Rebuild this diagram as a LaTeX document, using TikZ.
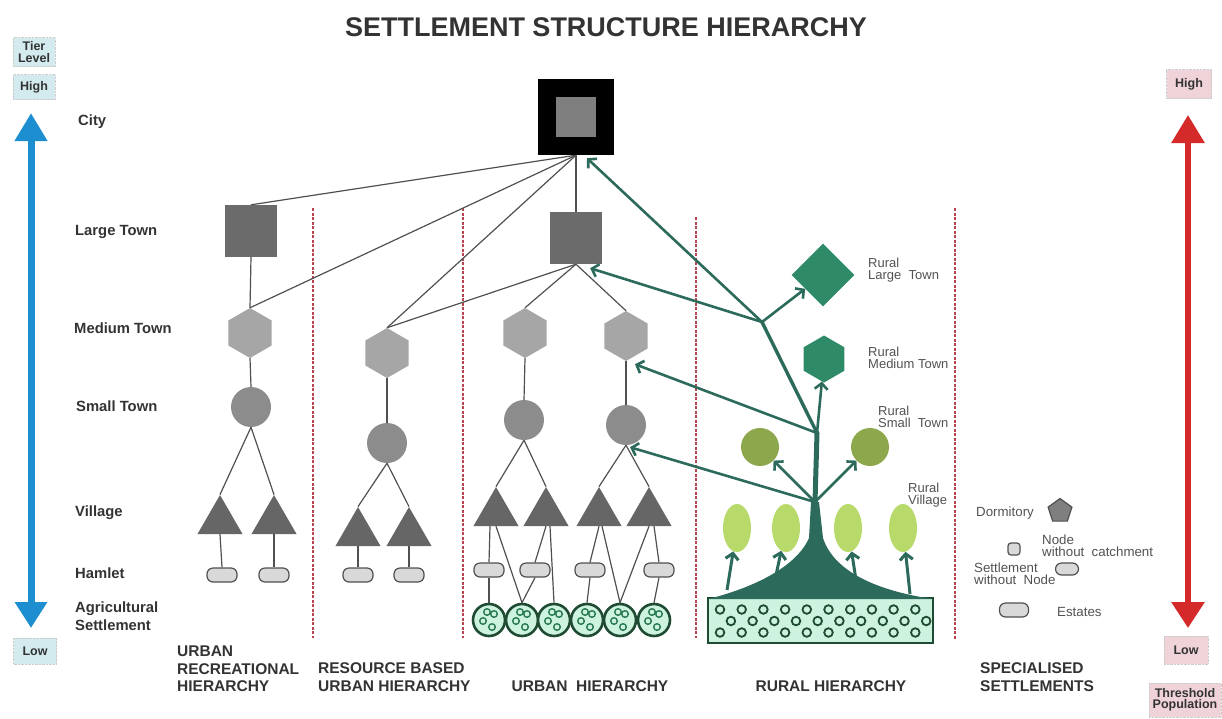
\documentclass[tikz,border=0pt]{standalone}
\usepackage{fontspec}
\setmainfont{Liberation Sans}
\usetikzlibrary{arrows.meta,shapes.geometric,calc}
\definecolor{txt}{HTML}{333333}
\definecolor{linegray}{HTML}{505050}
\definecolor{ltgray}{HTML}{6B6B6B}
\definecolor{hexgray}{HTML}{A6A6A6}
\definecolor{stgray}{HTML}{8C8C8C}
\definecolor{trigray}{HTML}{666666}
\definecolor{hamfill}{HTML}{D9D9D9}
\definecolor{cityin}{HTML}{7F7F7F}
\definecolor{trunk}{HTML}{2C6B5C}
\definecolor{rgreen}{HTML}{2F8A68}
\definecolor{olive}{HTML}{8DA84C}
\definecolor{lime}{HTML}{B8DA6B}
\definecolor{mint}{HTML}{CDF3E0}
\definecolor{agdark}{HTML}{1E4B32}
\definecolor{ringc}{HTML}{2A7A52}
\definecolor{dashred}{HTML}{B84452}
\definecolor{sblue}{HTML}{1D8FD0}
\definecolor{sred}{HTML}{D42A2A}
\definecolor{cyanbox}{HTML}{D3EBEE}
\definecolor{pinkbox}{HTML}{EFD3D8}
\pgfdeclarelayer{bg}
\pgfsetlayers{bg,main}
\newcommand\setfs[2]{\fontsize{#1}{#2}\selectfont}
\begin{document}
\begin{tikzpicture}[x=1pt,y=-1pt,
  conn/.style={draw=linegray, line width=1.2},
  gline/.style={draw=trunk, line cap=round},
  garrow/.style={draw=trunk, line width=2.6, -{Straight Barb[length=6pt,width=13pt]}},
  lbl/.style={anchor=west, font=\bfseries\setfs{14.8}{17.5}, text=txt, inner sep=0, align=left},
  botlbl/.style={anchor=west, font=\bfseries\setfs{15.5}{17.5}, text=txt, inner sep=0, align=left},
  rlbl/.style={anchor=west, font=\setfs{13}{12.5}, text=txt!85, inner sep=0, align=left},
  leg/.style={anchor=west, font=\setfs{13.3}{11.8}, text=txt!85, inner sep=0, align=left},
  ltsq/.style={rectangle, fill=ltgray, minimum size=52, inner sep=0},
  hexa/.style={regular polygon, regular polygon sides=6, shape border rotate=30, fill=hexgray, minimum size=50, inner sep=0},
  stc/.style={circle, fill=stgray, minimum size=40, inner sep=0},
  tri/.style={regular polygon, regular polygon sides=3, fill=trigray, minimum size=52, inner sep=0},
  ham/.style={rectangle, rounded corners=6, fill=hamfill, draw=linegray, line width=1.2, minimum width=30, minimum height=14, inner sep=0},
  agri/.style={circle, minimum size=32, inner sep=0, fill=mint, draw=agdark, line width=2.6,
    path picture={
      \foreach \dx/\dy in {5/-6,-6/1,3/7,-2/-8}{
        \draw[ringc, line width=1.4] ([shift={(\dx,\dy)}]path picture bounding box.center) circle (3.3);}
    }},
  tierbox/.style={rectangle, fill=cyanbox, draw=gray!40, densely dotted, font=\bfseries\setfs{12.5}{11.5}, text=txt, align=center, inner sep=1},
  pbox/.style={rectangle, fill=pinkbox, draw=gray!40, densely dotted, font=\bfseries\setfs{12.5}{11.5}, text=txt, align=center, inner sep=1},
  dashsep/.style={draw=dashred, line width=1.8, dash pattern=on 3pt off 1.5pt}
]
\useasboundingbox (0,0) rectangle (1222,718);

% title
\node[font=\bfseries\setfs{27}{30}, text=txt] (title) at (606,27) {SETTLEMENT STRUCTURE HIERARCHY};

% scale boxes
\node[tierbox, minimum width=42, minimum height=29] (tier) at (34,52) {Tier\\Level};
\node[tierbox, minimum width=42, minimum height=25] (hi) at (34,87) {High};
\node[tierbox, minimum width=43, minimum height=26] (lo) at (35,651) {Low};
\node[pbox, minimum width=45, minimum height=29] (hi2) at (1189,84) {High};
\node[pbox, minimum width=44, minimum height=28] (lo2) at (1186,650) {Low};
\node[pbox, minimum width=72, minimum height=34] (thr) at (1185,700) {Threshold\\Population};
\coordinate (bt) at (31,113);
\coordinate (bb) at (31,628);
\coordinate (rt) at (1188,115);
\coordinate (rb) at (1188,628);
\draw[sblue, line width=7, {Triangle[length=28pt,width=31pt]}-{Triangle[length=26pt,width=31pt]}] (bt) -- (bb);
\draw[sred, line width=6, {Triangle[length=28pt,width=32pt]}-{Triangle[length=26pt,width=32pt]}] (rt) -- (rb);

% left labels
\node[lbl] (lcity) at (78,122) {City};
\node[lbl] (llt) at (75,232) {Large Town};
\node[lbl] (lmt) at (74,328) {Medium Town};
\node[lbl] (lst) at (76,406) {Small Town};
\node[lbl] (lv) at (75,513) {Village};
\node[lbl] (lh) at (75,573) {Hamlet};
\node[lbl] (lag) at (75,616) {Agricultural\\Settlement};

% city
\node[rectangle, fill=black, minimum size=76, inner sep=0] (city) at (576,117) {};
\node[rectangle, fill=cityin, minimum size=40, inner sep=0] (cityin) at (576,117) {};

% large towns
\node[ltsq] (lt1) at (251,231) {};
\node[ltsq] (ult) at (576,238) {};

% medium towns
\node[hexa] (mh1) at (250,333) {};
\node[hexa] (rh) at (387,353) {};
\node[hexa] (uh1) at (525,333) {};
\node[hexa] (uh2) at (626,336) {};

% small towns
\node[stc] (st1) at (251,407) {};
\node[stc] (rs) at (387,443) {};
\node[stc] (us1) at (524,420) {};
\node[stc] (us2) at (626,425) {};

% villages
\node[tri] (v1) at (220,521) {};
\node[tri] (v2) at (274,521) {};
\node[tri] (v3) at (358,533) {};
\node[tri] (v4) at (409,533) {};
\node[tri] (v5) at (496,513) {};
\node[tri] (v6) at (546,513) {};
\node[tri] (v7) at (599,513) {};
\node[tri] (v8) at (649,513) {};

% hamlets
\node[ham] (h1) at (222,575) {};
\node[ham] (h2) at (274,575) {};
\node[ham] (h3) at (358,575) {};
\node[ham] (h4) at (409,575) {};
\node[ham] (h5) at (489,570) {};
\node[ham] (h6) at (535,570) {};
\node[ham] (h7) at (590,570) {};
\node[ham] (h8) at (659,570) {};

% agricultural settlements
\node[agri] (a1) at (489,620) {};
\node[agri] (a2) at (522,620) {};
\node[agri] (a3) at (554,620) {};
\node[agri] (a4) at (587,620) {};
\node[agri] (a5) at (620,620) {};
\node[agri] (a6) at (654,620) {};

\begin{pgfonlayer}{bg}
% separators
\draw[dashsep] (313,208) -- (313,638);
\draw[dashsep] (463,208) -- (463,638);
\draw[dashsep] (696,217) -- (696,638);
\draw[dashsep] (955,208) -- (955,640);
% city links
\draw[conn] (city.south) -- (lt1.north);
\draw[conn] (city.south) -- (mh1.north);
\draw[conn] (city.south) -- (rh.north);
\draw[conn] (city.south) -- (ult.north);
\draw[conn] (ult.south) -- (rh.north);
\draw[conn] (ult.south) -- (uh1.north);
\draw[conn] (ult.south) -- (uh2.north);
% recreational
\draw[conn] (lt1.south) -- (mh1.north);
\draw[conn] (mh1.south) -- (st1.north);
\draw[conn] (st1.south) -- (v1.north);
\draw[conn] (st1.south) -- (v2.north);
\draw[conn] (v1.south) -- (h1.north);
\draw[conn] (v2.south) -- (h2.north);
% resource
\draw[conn] (rh.south) -- (rs.north);
\draw[conn] (rs.south) -- (v3.north);
\draw[conn] (rs.south) -- (v4.north);
\draw[conn] (v3.south) -- (h3.north);
\draw[conn] (v4.south) -- (h4.north);
% urban
\draw[conn] (uh1.south) -- (us1.north);
\draw[conn] (uh2.south) -- (us2.north);
\draw[conn] (us1.south) -- (v5.north);
\draw[conn] (us1.south) -- (v6.north);
\draw[conn] (us2.south) -- (v7.north);
\draw[conn] (us2.south) -- (v8.north);
\draw[conn] ([xshift=-6pt]v5.south) -- (h5.north);
\draw[conn] (h5.south) -- (a1.north);
\draw[conn] (v5.south) -- (a2.north);
\draw[conn] (v6.south) -- (h6.north);
\draw[conn] (h6.south) -- (a2.north);
\draw[conn] ([xshift=4pt]v6.south) -- (a3.north);
\draw[conn] (v7.south) -- (h7.north);
\draw[conn] (h7.south) -- (a4.north);
\draw[conn] ([xshift=3pt]v7.south) -- (a5.north);
\draw[conn] (v8.south) -- (a5.north);
\draw[conn] ([xshift=5pt]v8.south) -- (h8.north);
\draw[conn] (h8.south) -- (a6.north);
\end{pgfonlayer}

% rural hierarchy
\node[rectangle, minimum width=225, minimum height=45, inner sep=0, fill=mint, draw=agdark, line width=2,
  path picture={
    \foreach \k in {0,...,9}{
      \draw[agdark, line width=1.8] ([shift={(-100.5+21.7*\k,-11)}]path picture bounding box.center) circle (4.3);
      \draw[agdark, line width=1.8] ([shift={(-89.6+21.7*\k,0.5)}]path picture bounding box.center) circle (4.3);
      \draw[agdark, line width=1.8] ([shift={(-100.5+21.7*\k,12)}]path picture bounding box.center) circle (4.3);
    }
  }] (ar) at (820.5,620.5) {};
\fill[trunk] (708,599) .. controls (745,590) and (795,570) .. (809,538) -- (811,502) -- (819,502) -- (823,538) .. controls (835,575) and (885,592) .. (933,599) -- cycle;

\node[diamond, fill=rgreen, minimum width=63, minimum height=63, inner sep=0] (rd) at (823,275) {};
\node[regular polygon, regular polygon sides=6, shape border rotate=30, fill=rgreen, minimum size=47, inner sep=0] (rhx) at (824,359) {};
\node[circle, fill=olive, minimum size=38, inner sep=0] (oc1) at (760,447) {};
\node[circle, fill=olive, minimum size=38, inner sep=0] (oc2) at (870,447) {};
\node[ellipse, fill=lime, minimum width=28, minimum height=48, inner sep=0] (e1) at (737,528) {};
\node[ellipse, fill=lime, minimum width=28, minimum height=48, inner sep=0] (e2) at (786,528) {};
\node[ellipse, fill=lime, minimum width=28, minimum height=48, inner sep=0] (e3) at (848,528) {};
\node[ellipse, fill=lime, minimum width=28, minimum height=48, inner sep=0] (e4) at (903,528) {};

\coordinate (r0) at (815,502);
\coordinate (r1) at (817,433);
\coordinate (r2) at (762,322);
\coordinate (g1) at (727,590);
\coordinate (g2) at (775,580);
\coordinate (g3) at (856,580);
\coordinate (g4) at (910,594);

\draw[gline, line width=5] (r0) -- (r1);
\draw[gline, line width=3.4] (r1) -- (r2);
\draw[garrow] (r2) -- ([xshift=11pt,yshift=-3pt]city.south);
\draw[garrow] (r2) -- ([xshift=-12pt,yshift=-4pt]ult.south east);
\draw[garrow] (r2) -- (rd);
\draw[garrow] (r1) -- (rhx);
\draw[garrow] (r1) -- ([xshift=9pt,yshift=-3pt]uh2.south);
\draw[garrow] (r0) -- ([xshift=4pt,yshift=-2pt]us2.south);
\draw[garrow] (r0) -- (oc1);
\draw[garrow] (r0) -- (oc2);
\draw[garrow, line width=3] (g1) -- (e1);
\draw[garrow, line width=3] (g2) -- (e2);
\draw[garrow, line width=3] (g3) -- (e3);
\draw[garrow, line width=3] (g4) -- (e4);

\node[rlbl] (lrlt) at (868,270) {Rural\\Large\ \ Town};
\node[rlbl] (lrmt) at (868,358) {Rural\\Medium Town};
\node[rlbl] (lrst) at (878,417) {Rural\\Small\ \ Town};
\node[rlbl] (lrv) at (908,495) {Rural\\Village};

% specialised settlements legend
\node[leg] (ldorm) at (976,513) {Dormitory};
\node[regular polygon, regular polygon sides=5, fill=cityin, draw=linegray, line width=1.2, minimum size=25, inner sep=0] (dorm) at (1060,511) {};
\node[ham, minimum width=12, minimum height=12, rounded corners=3] (nwc) at (1014,549) {};
\node[leg] (lnwc) at (1042,546) {Node\\without\ \ catchment};
\node[leg] (lswn) at (974,574) {Settlement\\without\ \ Node};
\node[ham, minimum width=23, minimum height=12] (swn) at (1067,569) {};
\node[ham, minimum width=29, minimum height=14] (est) at (1014,610) {};
\node[leg] (lest) at (1057,612) {Estates};

% bottom labels
\node[botlbl] (b1) at (177,669) {URBAN\\RECREATIONAL\\HIERARCHY};
\node[botlbl] (b2) at (318,677) {RESOURCE BASED\\URBAN HIERARCHY};
\node[botlbl, anchor=center] (b3) at (590,686) {URBAN\ \ HIERARCHY};
\node[botlbl, anchor=center] (b4) at (831,686) {RURAL HIERARCHY};
\node[botlbl] (b5) at (980,677) {SPECIALISED\\SETTLEMENTS};
\end{tikzpicture}
\end{document}
